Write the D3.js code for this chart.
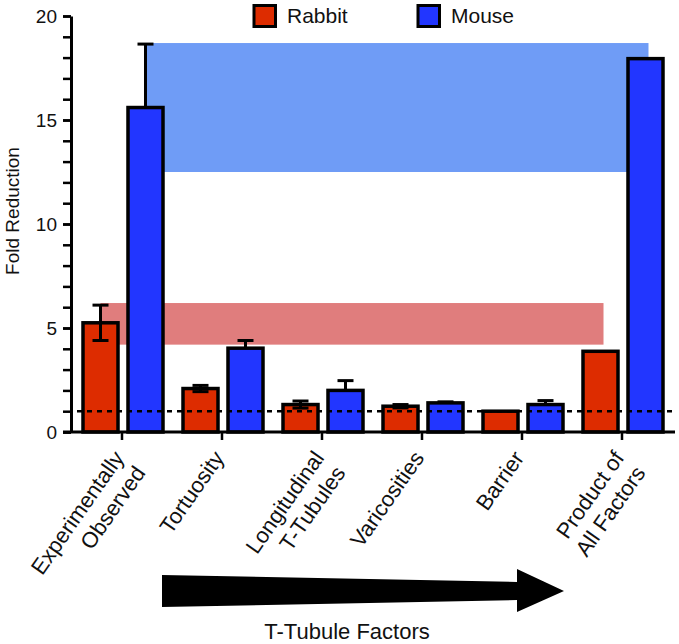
<!DOCTYPE html>
<html><head><meta charset="utf-8">
<script src="https://cdn.jsdelivr.net/npm/d3@7"></script>
<style>
html,body{margin:0;padding:0;background:#fff;}
svg{display:block;font-family:"Liberation Sans",Arial,Helvetica,sans-serif;}
</style></head>
<body><svg id="chart" width="679" height="644"></svg>
<script>
// ---- data ----
const categories = ["Experimentally Observed","Tortuosity","Longitudinal T-Tubules","Varicosities","Barrier","Product of All Factors"];
const categoryLines = [["Experimentally","Observed"],["Tortuosity"],["Longitudinal","T-Tubules"],["Varicosities"],["Barrier"],["Product of","All Factors"]];
const series = ["Rabbit","Mouse"];
const rabbitValues = [5.25, 2.09, 1.32, 1.24, 1.0, 3.88];
const rabbitErrors = [0.85, 0.15, 0.17, 0.08, 0, 0];
const mouseValues  = [15.6, 4.03, 2.0, 1.4, 1.32, 17.95];
const mouseErrors  = [3.05, 0.37, 0.47, 0.05, 0.19, 0];
const rabbitRange = [4.2, 6.2];
const mouseRange  = [12.5, 18.7];
const referenceLine = 1;
const yMajorTicks = [0, 5, 10, 15, 20];
const yMinorTicks = d3.range(0, 21, 1);
const xTitle = "T-Tubule Factors";
const yTitle = "Fold Reduction";

const colors = {Rabbit:"#dd2c00", Mouse:"#2236ff"};
const bandColors = {Rabbit:"#e07d7d", Mouse:"#6f9cf6"};

const svg = d3.select("#chart");
const y = d3.scaleLinear().domain([0,20]).range([432,16]);
const x0 = d3.scaleBand().domain(categories).range([72,672]).padding(0);
const x1 = d3.scaleBand().domain(series).range([11,91]).paddingInner(0.222);

const data = series.map(s => ({
  key:s,
  values: s==="Rabbit"?rabbitValues:mouseValues,
  errors: s==="Rabbit"?rabbitErrors:mouseErrors,
  range: s==="Rabbit"?rabbitRange:mouseRange,
  dir: s==="Rabbit"?"both":"up"
}));

// bands
const cx = (cat, s) => x0(cat) + x1(s) + x1.bandwidth()/2;
svg.append("g").selectAll("rect").data(data).join("rect")
  .attr("x", d => cx(categories[0], d.key))
  .attr("width", d => cx(categories[categories.length-1], d.key) + 3 - cx(categories[0], d.key))
  .attr("y", d => y(d.range[1]))
  .attr("height", d => y(d.range[0]) - y(d.range[1]))
  .attr("fill", d => bandColors[d.key]);

// bars
const barItems = [];
data.forEach(d => categories.forEach((c,i) => barItems.push({cat:c, key:d.key, v:d.values[i], e:d.errors[i], dir:d.dir})));
svg.append("g").selectAll("rect").data(barItems).join("rect")
  .attr("x", d => x0(d.cat) + x1(d.key))
  .attr("width", x1.bandwidth())
  .attr("y", d => y(d.v))
  .attr("height", d => y(0) - y(d.v))
  .attr("fill", d => colors[d.key])
  .attr("stroke", "#000").attr("stroke-width", 3.5);

// error bars
const eg = svg.append("g").attr("stroke","#000").attr("stroke-width",3).attr("fill","none");
barItems.filter(d => d.e > 0).forEach(d => {
  const c = cx(d.cat, d.key);
  const top = y(d.v + d.e);
  const bot = d.dir === "both" ? y(d.v - d.e) : y(d.v);
  eg.append("line").attr("x1",c).attr("x2",c).attr("y1",top).attr("y2",bot);
  eg.append("line").attr("x1",c-8).attr("x2",c+8).attr("y1",top).attr("y2",top);
  if (d.dir === "both") eg.append("line").attr("x1",c-8).attr("x2",c+8).attr("y1",bot).attr("y2",bot);
});

// reference dotted line
svg.append("line")
  .attr("x1", 77).attr("x2", 673)
  .attr("y1", y(referenceLine)).attr("y2", y(referenceLine))
  .attr("stroke","#000").attr("stroke-width",2.5).attr("stroke-dasharray","5,5");

// y axis
const yMinor = svg.append("g").attr("transform","translate(71,0)")
  .call(d3.axisLeft(y).tickValues(yMinorTicks).tickFormat("").tickSize(8).tickSizeOuter(0));
yMinor.select(".domain").remove();
yMinor.selectAll(".tick line").attr("stroke","#000").attr("stroke-width",2.5);
const yMajor = svg.append("g").attr("transform","translate(71,0)")
  .call(d3.axisLeft(y).tickValues(yMajorTicks).tickSize(8).tickSizeOuter(0).tickPadding(6));
yMajor.select(".domain").attr("stroke","#000").attr("stroke-width",3);
yMajor.selectAll(".tick line").attr("stroke","#000").attr("stroke-width",2.5);
yMajor.selectAll(".tick text").attr("font-size",19).attr("fill","#111").attr("font-family","Liberation Sans, Arial, sans-serif");

// x axis
const xAxis = svg.append("g").attr("transform","translate(0,432)")
  .call(d3.axisBottom(x0).tickFormat("").tickSize(8).tickSizeOuter(0));
xAxis.select(".domain").attr("d","M63,0H675").attr("stroke","#000").attr("stroke-width",3);
xAxis.selectAll(".tick line").attr("stroke","#000").attr("stroke-width",2.5);

// x labels
const ang = 55, lh = 26;
const rad = ang*Math.PI/180;
const lg = svg.append("g").attr("font-size",22).attr("fill","#111");
categories.forEach((c,i) => {
  const tx = x0(c) + x0.bandwidth()/2;
  const lines = categoryLines[i];
  lines.forEach((ln, j) => {
    const ax = tx + 3 + j*lh*Math.sin(rad);
    const ay = 458 + j*lh*Math.cos(rad);
    lg.append("text").attr("transform",`translate(${ax},${ay}) rotate(${-ang})`)
      .attr("text-anchor","end").text(ln);
  });
});

// arrow
svg.append("path")
  .attr("d","M162,575 L517,582 L517,569 L564,591 L517,612 L517,600 L162,607 Z")
  .attr("fill","#000");

// titles
svg.append("text").attr("x",347).attr("y",639).attr("text-anchor","middle")
  .attr("font-size",22).attr("fill","#111").text(xTitle);
svg.append("text").attr("transform","translate(19,211) rotate(-90)").attr("text-anchor","middle")
  .attr("font-size",19).attr("fill","#111").text(yTitle);

// legend
const legendX = [254, 418];
series.forEach((s,i) => {
  svg.append("rect").attr("x",legendX[i]).attr("y",5.5).attr("width",21.5).attr("height",21)
    .attr("fill",colors[s]).attr("stroke","#000").attr("stroke-width",3);
  svg.append("text").attr("x",legendX[i]+33).attr("y",23).attr("font-size",21).attr("fill","#111").text(s);
});
</script></body></html>
